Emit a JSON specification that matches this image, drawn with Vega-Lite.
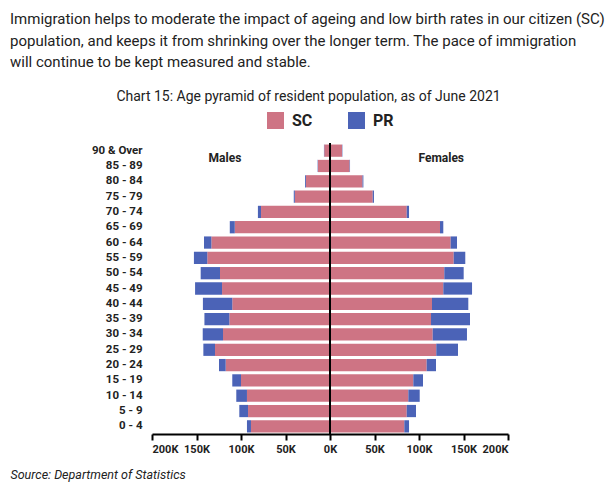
{
  "$schema": "https://vega.github.io/schema/vega-lite/v6.json",
  "autosize": "none",
  "padding": {"left": 152, "top": 143, "right": 102, "bottom": 66},
  "width": 356,
  "height": 291,
  "background": "white",
  "config": {"view": {"stroke": null}},
  "title": {
    "text": ["Immigration helps to moderate the impact of ageing and low birth rates in our citizen (SC)", "population, and keeps it from shrinking over the longer term. The pace of immigration", "will continue to be kept measured and stable."],
    "anchor": "start",
    "frame": "group",
    "dx": -142,
    "font": "Roboto",
    "fontSize": 15,
    "fontWeight": "normal",
    "color": "#222222",
    "lineHeight": 21.5,
    "offset": 19
  },
  "datasets": {
    "pop": [
      {"age": "90 & Over", "sex": "Male", "status": "SC", "value": 6500},
      {"age": "90 & Over", "sex": "Male", "status": "PR", "value": 300},
      {"age": "85 - 89", "sex": "Male", "status": "SC", "value": 13500},
      {"age": "85 - 89", "sex": "Male", "status": "PR", "value": 400},
      {"age": "80 - 84", "sex": "Male", "status": "SC", "value": 27000},
      {"age": "80 - 84", "sex": "Male", "status": "PR", "value": 1000},
      {"age": "75 - 79", "sex": "Male", "status": "SC", "value": 39500},
      {"age": "75 - 79", "sex": "Male", "status": "PR", "value": 1200},
      {"age": "70 - 74", "sex": "Male", "status": "SC", "value": 77500},
      {"age": "70 - 74", "sex": "Male", "status": "PR", "value": 3500},
      {"age": "65 - 69", "sex": "Male", "status": "SC", "value": 107000},
      {"age": "65 - 69", "sex": "Male", "status": "PR", "value": 5600},
      {"age": "60 - 64", "sex": "Male", "status": "SC", "value": 133300},
      {"age": "60 - 64", "sex": "Male", "status": "PR", "value": 8300},
      {"age": "55 - 59", "sex": "Male", "status": "SC", "value": 137900},
      {"age": "55 - 59", "sex": "Male", "status": "PR", "value": 15000},
      {"age": "50 - 54", "sex": "Male", "status": "SC", "value": 123600},
      {"age": "50 - 54", "sex": "Male", "status": "PR", "value": 21700},
      {"age": "45 - 49", "sex": "Male", "status": "SC", "value": 121300},
      {"age": "45 - 49", "sex": "Male", "status": "PR", "value": 30300},
      {"age": "40 - 44", "sex": "Male", "status": "SC", "value": 109800},
      {"age": "40 - 44", "sex": "Male", "status": "PR", "value": 33000},
      {"age": "35 - 39", "sex": "Male", "status": "SC", "value": 113100},
      {"age": "35 - 39", "sex": "Male", "status": "PR", "value": 28000},
      {"age": "30 - 34", "sex": "Male", "status": "SC", "value": 120200},
      {"age": "30 - 34", "sex": "Male", "status": "PR", "value": 22800},
      {"age": "25 - 29", "sex": "Male", "status": "SC", "value": 129200},
      {"age": "25 - 29", "sex": "Male", "status": "PR", "value": 13100},
      {"age": "20 - 24", "sex": "Male", "status": "SC", "value": 117200},
      {"age": "20 - 24", "sex": "Male", "status": "PR", "value": 7500},
      {"age": "15 - 19", "sex": "Male", "status": "SC", "value": 100000},
      {"age": "15 - 19", "sex": "Male", "status": "PR", "value": 9800},
      {"age": "10 - 14", "sex": "Male", "status": "SC", "value": 93300},
      {"age": "10 - 14", "sex": "Male", "status": "PR", "value": 12000},
      {"age": "5 - 9", "sex": "Male", "status": "SC", "value": 92100},
      {"age": "5 - 9", "sex": "Male", "status": "PR", "value": 9800},
      {"age": "0 - 4", "sex": "Male", "status": "SC", "value": 88800},
      {"age": "0 - 4", "sex": "Male", "status": "PR", "value": 4500},
      {"age": "90 & Over", "sex": "Female", "status": "SC", "value": 13500},
      {"age": "90 & Over", "sex": "Female", "status": "PR", "value": 400},
      {"age": "85 - 89", "sex": "Female", "status": "SC", "value": 22000},
      {"age": "85 - 89", "sex": "Female", "status": "PR", "value": 500},
      {"age": "80 - 84", "sex": "Female", "status": "SC", "value": 36500},
      {"age": "80 - 84", "sex": "Female", "status": "PR", "value": 1000},
      {"age": "75 - 79", "sex": "Female", "status": "SC", "value": 48000},
      {"age": "75 - 79", "sex": "Female", "status": "PR", "value": 1400},
      {"age": "70 - 74", "sex": "Female", "status": "SC", "value": 86200},
      {"age": "70 - 74", "sex": "Female", "status": "PR", "value": 2600},
      {"age": "65 - 69", "sex": "Female", "status": "SC", "value": 123600},
      {"age": "65 - 69", "sex": "Female", "status": "PR", "value": 3700},
      {"age": "60 - 64", "sex": "Female", "status": "SC", "value": 135600},
      {"age": "60 - 64", "sex": "Female", "status": "PR", "value": 7100},
      {"age": "55 - 59", "sex": "Female", "status": "SC", "value": 139000},
      {"age": "55 - 59", "sex": "Female", "status": "PR", "value": 13000},
      {"age": "50 - 54", "sex": "Female", "status": "SC", "value": 128400},
      {"age": "50 - 54", "sex": "Female", "status": "PR", "value": 21800},
      {"age": "45 - 49", "sex": "Female", "status": "SC", "value": 127300},
      {"age": "45 - 49", "sex": "Female", "status": "PR", "value": 32300},
      {"age": "40 - 44", "sex": "Female", "status": "SC", "value": 114600},
      {"age": "40 - 44", "sex": "Female", "status": "PR", "value": 40800},
      {"age": "35 - 39", "sex": "Female", "status": "SC", "value": 113500},
      {"age": "35 - 39", "sex": "Female", "status": "PR", "value": 43800},
      {"age": "30 - 34", "sex": "Female", "status": "SC", "value": 115400},
      {"age": "30 - 34", "sex": "Female", "status": "PR", "value": 38500},
      {"age": "25 - 29", "sex": "Female", "status": "SC", "value": 119400},
      {"age": "25 - 29", "sex": "Female", "status": "PR", "value": 24400},
      {"age": "20 - 24", "sex": "Female", "status": "SC", "value": 108600},
      {"age": "20 - 24", "sex": "Female", "status": "PR", "value": 10500},
      {"age": "15 - 19", "sex": "Female", "status": "SC", "value": 93600},
      {"age": "15 - 19", "sex": "Female", "status": "PR", "value": 10900},
      {"age": "10 - 14", "sex": "Female", "status": "SC", "value": 88000},
      {"age": "10 - 14", "sex": "Female", "status": "PR", "value": 12800},
      {"age": "5 - 9", "sex": "Female", "status": "SC", "value": 86200},
      {"age": "5 - 9", "sex": "Female", "status": "PR", "value": 10400},
      {"age": "0 - 4", "sex": "Female", "status": "SC", "value": 83500},
      {"age": "0 - 4", "sex": "Female", "status": "PR", "value": 5300}
    ],
    "labels": [
      {"age": "90 & Over", "value": -118000, "label": "Males"},
      {"age": "90 & Over", "value": 125000, "label": "Females"}
    ],
    "zero": [
      {"value": 0}
    ]
  },
  "resolve": {"axis": {"x": "independent"}},
  "layer": [
    {
      "data": {"name": "pop"},
      "transform": [
        {"calculate": "datum.sex === 'Male' ? -datum.value : datum.value", "as": "signed"}
      ],
      "mark": {"type": "bar"},
      "encoding": {
        "y": {
          "field": "age", "type": "nominal",
          "sort": ["90 & Over", "85 - 89", "80 - 84", "75 - 79", "70 - 74", "65 - 69", "60 - 64", "55 - 59", "50 - 54", "45 - 49", "40 - 44", "35 - 39", "30 - 34", "25 - 29", "20 - 24", "15 - 19", "10 - 14", "5 - 9", "0 - 4"],
          "scale": {"paddingInner": 0.2, "paddingOuter": 0.1},
          "axis": {"title": null, "domain": false, "ticks": false, "grid": false, "labelPadding": 10, "labelFont": "Roboto", "labelFontSize": 11.5, "labelFontWeight": "bold", "labelColor": "#222222"}
        },
        "x": {
          "field": "signed", "type": "quantitative", "stack": "zero",
          "scale": {"domain": [-200000, 200000], "nice": false},
          "axis": {
            "orient": "bottom",
            "values": [-200000, -150000, -100000, -50000, 0, 50000, 100000, 150000, 200000],
            "labelExpr": "format(abs(datum.value) / 1000, 'd') + 'K'",
            "grid": false,
            "domainColor": "#000000", "domainWidth": 2,
            "tickColor": "#000000", "tickWidth": 2, "tickSize": 6,
            "labelFont": "Roboto", "labelFontSize": 11, "labelFontWeight": "bold", "labelColor": "#222222", "labelPadding": 3,
            "title": "Source: Department of Statistics",
            "titleX": -142, "titleY": 44, "titleAlign": "left", "titleBaseline": "alphabetic",
            "titleFont": "Roboto", "titleFontSize": 12.5, "titleFontStyle": "italic", "titleFontWeight": "normal", "titleColor": "#222222"
          }
        },
        "color": {
          "field": "status", "type": "nominal",
          "scale": {"domain": ["SC", "PR"], "range": ["#CE7484", "#4B63B7"]},
          "legend": {
            "title": null, "orient": "none", "direction": "horizontal",
            "legendX": 115, "legendY": -31,
            "symbolType": "square", "symbolSize": 289, "symbolStrokeWidth": 0, "symbolOpacity": 1,
            "labelFont": "Roboto", "labelFontSize": 16, "labelFontWeight": "bold", "labelColor": "#222222",
            "columnPadding": 35, "labelOffset": 8
          }
        },
        "order": {"field": "status", "sort": "descending"}
      }
    },
    {
      "data": {"name": "zero"},
      "mark": {"type": "rule", "color": "#000000", "strokeWidth": 2},
      "encoding": {
        "x": {
          "field": "value", "type": "quantitative",
          "axis": {
            "orient": "top", "labels": false, "ticks": false, "domain": false, "grid": false,
            "title": "Chart 15: Age pyramid of resident population, as of June 2021",
            "titleX": 156, "titleY": -43, "titleAlign": "center", "titleBaseline": "alphabetic",
            "titleFont": "Roboto", "titleFontSize": 14, "titleFontWeight": "normal", "titleColor": "#222222"
          }
        }
      }
    },
    {
      "data": {"name": "labels"},
      "mark": {"type": "text", "font": "Roboto", "fontSize": 12, "fontWeight": "bold", "color": "#222222", "dy": 7},
      "encoding": {
        "x": {"field": "value", "type": "quantitative", "axis": null},
        "y": {
          "field": "age", "type": "nominal",
          "sort": ["90 & Over", "85 - 89", "80 - 84", "75 - 79", "70 - 74", "65 - 69", "60 - 64", "55 - 59", "50 - 54", "45 - 49", "40 - 44", "35 - 39", "30 - 34", "25 - 29", "20 - 24", "15 - 19", "10 - 14", "5 - 9", "0 - 4"]
        },
        "text": {"field": "label"}
      }
    }
  ]
}
